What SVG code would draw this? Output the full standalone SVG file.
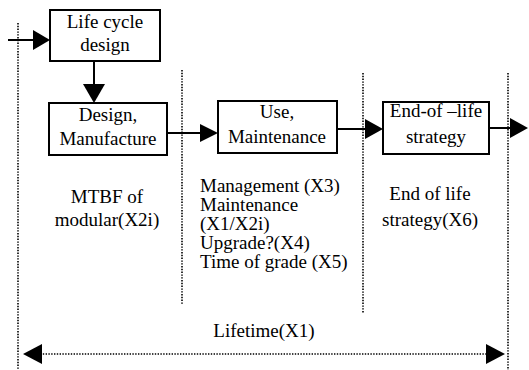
<svg xmlns="http://www.w3.org/2000/svg" width="529" height="370" viewBox="0 0 529 370">
<style>
.box{fill:#fff;stroke:#000;stroke-width:2}
.t{font-family:"Liberation Serif","Times New Roman",serif;font-size:19px;fill:#000}
.c{text-anchor:middle}
.ln{stroke:#000;stroke-width:2;fill:none}
.dot{stroke:#000;stroke-width:1.6;stroke-dasharray:1.4 1.4;fill:none}
.ah{fill:#000}
</style>
<rect width="529" height="370" fill="#fff"/>
<g id="dividers">
<line class="dot" x1="18" y1="23" x2="18" y2="370"/>
<line class="dot" x1="182" y1="70" x2="182" y2="305"/>
<line class="dot" x1="363" y1="73" x2="363" y2="313"/>
<line class="dot" x1="508" y1="73" x2="508" y2="370"/>
</g>
<g id="connectors">
<line class="ln" x1="8" y1="40" x2="35" y2="40"/>
<polygon class="ah" points="33,30 50,40 33,50"/>
<line class="ln" x1="94" y1="61" x2="94" y2="86"/>
<polygon class="ah" points="83,84 105,84 94,103"/>
<line class="ln" x1="167" y1="133" x2="202" y2="133"/>
<polygon class="ah" points="200,124 218,133 200,142"/>
<line class="ln" x1="337" y1="129" x2="367" y2="129"/>
<polygon class="ah" points="365,119 383,129 365,139"/>
<line class="ln" x1="489" y1="128" x2="512" y2="128"/>
<polygon class="ah" points="510,118 528,128 510,138"/>
<line class="dot" x1="40" y1="354" x2="488" y2="354"/>
<polygon class="ah" points="42,344 23,354 42,364"/>
<polygon class="ah" points="486,344 505,354 486,364"/>
</g>
<g id="lifecycle">
<rect class="box" x="50" y="10" width="110" height="51"/>
<text class="t c" x="105" y="28">Life cycle</text>
<text class="t c" x="105" y="51">design</text>
</g>
<g id="design">
<rect class="box" x="49" y="103" width="118" height="52"/>
<text class="t c" x="108" y="121">Design,</text>
<text class="t c" x="108" y="145">Manufacture</text>
</g>
<g id="use">
<rect class="box" x="218" y="101" width="119" height="52"/>
<text class="t c" x="277" y="118">Use,</text>
<text class="t c" x="277" y="143">Maintenance</text>
</g>
<g id="eol">
<rect class="box" x="383" y="102" width="106" height="52"/>
<text class="t c" x="436" y="117">End-of –life</text>
<text class="t c" x="436" y="143">strategy</text>
</g>
<g id="labels">
<text class="t c" x="107" y="203">MTBF of</text>
<text class="t c" x="107" y="226">modular(X2i)</text>
<text class="t" x="200" y="192">Management (X3)</text>
<text class="t" x="200" y="211">Maintenance</text>
<text class="t" x="200" y="230">(X1/X2i)</text>
<text class="t" x="200" y="249">Upgrade?(X4)</text>
<text class="t" x="200" y="268">Time of grade (X5)</text>
<text class="t c" x="430" y="200">End of life</text>
<text class="t c" x="430" y="226">strategy(X6)</text>
<text class="t c" x="264" y="337">Lifetime(X1)</text>
</g>
</svg>
